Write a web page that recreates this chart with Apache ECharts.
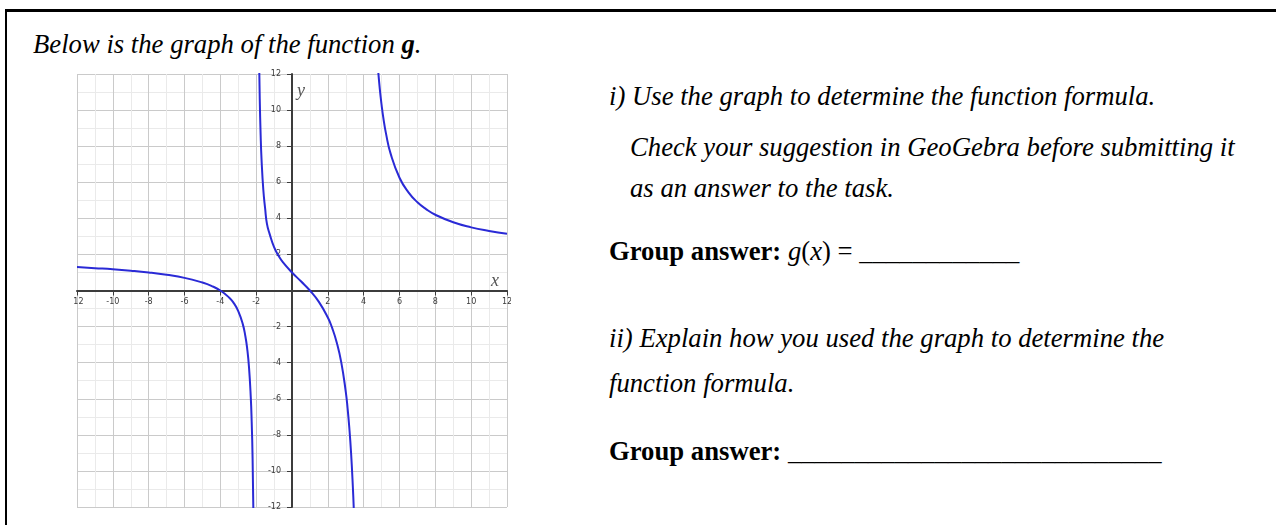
<!DOCTYPE html>
<html>
<head>
<meta charset="utf-8">
<script src="https://cdn.jsdelivr.net/npm/echarts@6.0.0/dist/echarts.min.js"></script>
<style>
  html, body {
    margin: 0;
    padding: 0;
    background: #fff;
  }
  body {
    width: 1276px;
    height: 525px;
    position: relative;
    overflow: hidden;
    font-family: "Liberation Serif", "Times New Roman", serif;
    color: #000;
  }
  .frame {
    position: absolute;
    left: 5px;
    top: 9px;
    width: 1300px;
    height: 600px;
    border-left: 2px solid #000;
    border-top: 3px solid #000;
  }
  .line {
    position: absolute;
    font-size: 26.7px;
    line-height: 30px;
    height: 30px;
    white-space: pre;
  }
  .it { font-style: italic; }
  .b { font-weight: bold; }
  /* the graph is a cropped picture: cut it at its edges */
  .crop {
    position: absolute;
    left: 74px;
    top: 69px;
    width: 437px;
    height: 441px;
    overflow: hidden;
  }
  #graph {
    position: absolute;
    left: -74px;
    top: -69px;
    width: 600px;
    height: 600px;
  }
</style>
</head>
<body>
<div class="frame"></div>

<div class="line it" style="left:33px; top:29px;">Below is the graph of the function <b>g</b>.</div>

<div class="line it" style="left:609px; top:81px;">i) Use the graph to determine the function formula.</div>
<div class="line it" style="left:630px; top:132px;">Check your suggestion in GeoGebra before submitting it</div>
<div class="line it" style="left:630px; top:173px;">as an answer to the task.</div>
<div class="line" style="left:609px; top:236px;"><span class="b">Group answer:</span> <i>g</i>(<i>x</i>) = ____________</div>
<div class="line it" style="left:609px; top:323px;">ii) Explain how you used the graph to determine the</div>
<div class="line it" style="left:609px; top:368px;">function formula.</div>
<div class="line" style="left:609px; top:436px;"><span class="b">Group answer:</span> ____________________________</div>

<div class="crop"><div id="graph"></div></div>

<script>
// axis range of the graph
var axisMin = -12;
var axisMax = 12;
var axisStep = 2;

// branch left of x = -2
var leftX = [-12, -11, -10, -9, -8, -7, -6, -5, -4.5, -4, -3.5, -3.25, -3, -2.75, -2.6, -2.5, -2.4, -2.3, -2.25, -2.2, -2.15];
var leftY = [1.30, 1.24, 1.18, 1.10, 1.00, 0.87, 0.70, 0.44, 0.26, 0, -0.40, -0.70, -1.14, -1.85, -2.55, -3.23, -4.25, -5.94, -7.28, -9.29, -12.63];

// middle branch between x = -2 and x = 4
var middleX = [-1.83, -1.8, -1.75, -1.7, -1.6, -1.5, -1.4, -1.25, -1, -0.75, -0.5, 0, 0.5, 1, 1.5, 2, 2.25, 2.5, 2.75, 3, 3.1, 3.2, 3.3, 3.4, 3.45];
var middleY = [12.39, 10.62, 8.61, 7.26, 5.57, 4.55, 3.71, 3.14, 2.40, 1.92, 1.56, 1.00, 0.51, 0, -0.63, -1.50, -2.10, -2.89, -3.98, -5.60, -6.50, -7.62, -9.05, -10.96, -12.17];

// branch right of x = 4
var rightX = [4.8, 4.9, 5, 5.1, 5.25, 5.5, 6, 6.5, 7, 7.5, 8, 9, 10, 11, 12];
var rightY = [12.29, 11.18, 10.29, 9.55, 8.68, 7.60, 6.25, 5.44, 4.89, 4.50, 4.20, 3.78, 3.50, 3.30, 3.14];

var gridLeft = 77, gridTop = 74, gridWidth = 430, gridHeight = 433;

function pairs (xs, ys) {
  return xs.map(function (x, i) { return [x, ys[i]]; });
}

function hideZero (v) {
  return Number(v) === 0 ? '' : String(v);
}

var curveColor = '#2a2ad6';

function branch (xs, ys) {
  return {
    type: 'line',
    data: pairs(xs, ys),
    showSymbol: false,
    symbol: 'none',
    smooth: 0.5,
    clip: true,
    silent: true,
    lineStyle: { color: curveColor, width: 2 }
  };
}

function axis (name) {
  return {
    type: 'value',
    min: axisMin,
    max: axisMax,
    interval: axisStep,
    name: name,
    nameLocation: 'end',
    // the axes cross at the origin, so move them in from the grid edge
    axisLine: { onZero: false, lineStyle: { color: '#3c3c3c', width: 2 } },
    axisTick: { show: true, length: 5, lineStyle: { color: '#3c3c3c', width: 1 } },
    axisLabel: {
      formatter: hideZero,
      fontSize: 8,
      fontFamily: 'DejaVu Sans',
      color: '#3a3a3a',
      hideOverlap: false,
      showMinLabel: true,
      showMaxLabel: true
    },
    splitLine: { show: true, lineStyle: { color: '#cacaca', width: 1 } },
    minorTick: { show: false, splitNumber: 2 },
    minorSplitLine: { show: true, lineStyle: { color: '#eaeaea', width: 1 } }
  };
}

var xAxis = axis('x');
xAxis.position = 'bottom';
xAxis.offset = -gridHeight / 2;
xAxis.nameGap = -16;
xAxis.nameTextStyle = {
  fontFamily: 'Liberation Serif',
  fontStyle: 'italic',
  fontSize: 18,
  color: '#555',
  align: 'left',
  verticalAlign: 'bottom'
};
xAxis.axisLabel.margin = 7;

var yAxis = axis('y');
yAxis.position = 'left';
yAxis.offset = -gridWidth / 2;
yAxis.nameGap = -8;
yAxis.nameTextStyle = {
  fontFamily: 'Liberation Serif',
  fontStyle: 'italic',
  fontSize: 18,
  color: '#555',
  align: 'left',
  verticalAlign: 'top',
  padding: [0, 0, 0, 5]
};
yAxis.axisLabel.margin = 11;

var myChart = echarts.init(document.getElementById('graph'));
myChart.setOption({
  animation: false,
  backgroundColor: '#fff',
  grid: { left: gridLeft, top: gridTop, width: gridWidth, height: gridHeight },
  xAxis: xAxis,
  yAxis: yAxis,
  series: [
    branch(leftX, leftY),
    branch(middleX, middleY),
    branch(rightX, rightY)
  ]
});
</script>
</body>
</html>
